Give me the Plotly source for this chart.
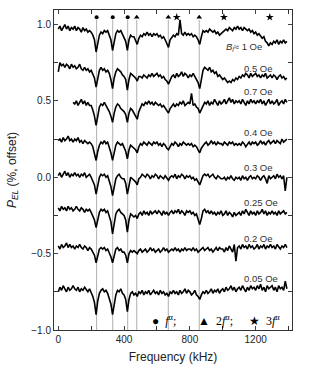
import plotly.graph_objects as go

# frequency grid (kHz)
freq = list(range(0, 1400, 10))

b_1 = [0.97,0.99,0.96,0.98,1.00,0.97,0.99,0.96,0.98,0.97,
       0.99,0.96,0.98,0.97,0.95,0.98,0.96,0.97,0.95,0.96,
       0.95,0.93,0.90,0.82,0.89,0.93,0.95,0.94,0.96,0.95,
       0.96,0.93,0.90,0.83,0.90,0.94,0.96,0.95,0.96,0.94,
       0.92,0.89,0.83,0.90,0.93,0.92,0.92,0.90,0.87,0.91,
       0.93,0.92,0.94,0.93,0.95,0.93,0.94,0.92,0.94,0.93,
       0.94,0.92,0.93,0.91,0.92,0.90,0.88,0.85,0.90,0.92,
       0.93,0.92,0.94,0.93,1.03,0.94,0.93,0.95,0.93,0.94,
       0.93,0.94,0.92,0.93,0.92,0.90,0.87,0.92,0.96,0.95,
       0.96,0.95,0.97,0.96,0.95,0.96,0.94,0.95,0.93,0.94,
       0.95,0.96,0.97,0.96,0.98,0.97,0.96,0.98,0.97,0.99,
       0.97,0.98,0.96,0.98,0.97,0.96,0.97,0.95,0.96,0.94,
       0.95,0.93,0.94,0.92,0.91,0.92,0.89,0.88,0.86,0.88,
       0.87,0.89,0.88,0.90,0.87,0.89,0.88,0.90,0.88,0.89]

b_05 = [0.69,0.75,0.73,0.74,0.72,0.74,0.73,0.71,0.74,0.72,
        0.73,0.71,0.72,0.74,0.71,0.70,0.72,0.70,0.71,0.69,
        0.70,0.68,0.65,0.59,0.66,0.70,0.72,0.70,0.71,0.69,
        0.70,0.68,0.64,0.58,0.65,0.69,0.71,0.70,0.69,0.67,
        0.66,0.64,0.57,0.64,0.68,0.67,0.66,0.65,0.63,0.66,
        0.66,0.65,0.67,0.66,0.65,0.67,0.66,0.68,0.66,0.67,
        0.68,0.66,0.67,0.65,0.66,0.64,0.63,0.61,0.64,0.66,
        0.67,0.65,0.68,0.66,0.67,0.69,0.66,0.68,0.67,0.65,
        0.67,0.66,0.68,0.66,0.64,0.62,0.58,0.64,0.70,0.72,
        0.71,0.70,0.72,0.69,0.70,0.68,0.69,0.66,0.67,0.65,
        0.64,0.65,0.63,0.62,0.63,0.62,0.64,0.63,0.65,0.64,
        0.66,0.65,0.67,0.66,0.68,0.67,0.65,0.68,0.66,0.67,
        0.68,0.66,0.67,0.65,0.67,0.66,0.68,0.65,0.66,0.67,
        0.65,0.67,0.66,0.64,0.66,0.67,0.65,0.66,0.64,0.65]

b_07 = [0.49,
        0.48,0.50,0.47,0.49,0.51,0.48,0.50,0.47,0.49,0.47,
        0.47,0.44,0.40,0.34,0.41,0.46,0.48,0.47,0.49,0.47,
        0.46,0.43,0.40,0.36,0.42,0.46,0.48,0.47,0.45,0.44,
        0.43,0.41,0.36,0.42,0.45,0.44,0.42,0.40,0.38,0.43,
        0.46,0.48,0.47,0.49,0.48,0.50,0.48,0.49,0.47,0.49,
        0.48,0.47,0.48,0.46,0.47,0.45,0.44,0.42,0.45,0.47,
        0.48,0.46,0.48,0.47,0.49,0.48,0.50,0.47,0.48,0.49,
        0.48,0.55,0.47,0.48,0.46,0.45,0.42,0.44,0.47,0.49,
        0.48,0.50,0.47,0.49,0.48,0.51,0.49,0.47,0.50,0.48,
        0.49,0.51,0.48,0.50,0.52,0.49,0.51,0.48,0.50,0.49,
        0.50,0.48,0.51,0.49,0.47,0.50,0.48,0.51,0.49,0.50,
        0.48,0.50,0.49,0.51,0.48,0.50,0.47,0.49,0.51,0.48,
        0.50,0.48,0.49,0.51,0.47,0.49,0.50,0.48,0.51,0.49]

b_04 = [0.24,0.25,0.23,0.26,0.24,0.25,0.27,0.24,0.25,0.23,
        0.25,0.24,0.26,0.23,0.24,0.22,0.24,0.23,0.22,0.23,
        0.22,0.20,0.16,0.11,0.17,0.21,0.23,0.22,0.24,0.22,
        0.23,0.20,0.16,0.11,0.17,0.21,0.23,0.22,0.21,0.22,
        0.20,0.17,0.12,0.18,0.21,0.20,0.19,0.18,0.16,0.20,
        0.22,0.21,0.23,0.22,0.21,0.23,0.22,0.21,0.23,0.22,
        0.23,0.21,0.22,0.20,0.22,0.21,0.19,0.18,0.20,0.22,
        0.21,0.23,0.22,0.20,0.22,0.21,0.23,0.22,0.21,0.22,
        0.21,0.22,0.20,0.21,0.20,0.18,0.16,0.19,0.21,0.22,
        0.23,0.21,0.22,0.24,0.22,0.23,0.21,0.23,0.22,0.22,
        0.21,0.23,0.22,0.21,0.23,0.22,0.23,0.21,0.22,0.21,
        0.22,0.21,0.23,0.22,0.20,0.22,0.23,0.21,0.23,0.22,
        0.23,0.21,0.22,0.24,0.22,0.23,0.21,0.23,0.24,0.22,
        0.23,0.24,0.22,0.24,0.23,0.22,0.25,0.23,0.24,0.25]

b_03 = [0.01,0.03,0.00,0.02,0.04,0.01,0.03,0.00,0.02,0.01,
        0.03,0.01,0.02,0.00,0.02,0.01,0.03,0.00,0.01,0.02,
        0.00,-0.02,-0.05,-0.11,-0.04,0.00,0.02,0.01,0.02,0.00,
        0.01,-0.02,-0.06,-0.12,-0.05,-0.01,0.01,0.02,0.00,-0.01,
        -0.01,-0.04,-0.11,-0.04,0.00,-0.01,-0.02,-0.03,-0.05,-0.01,
        0.00,0.02,0.01,0.00,0.02,0.01,-0.01,0.01,0.00,0.02,
        0.01,-0.01,0.01,0.00,-0.01,0.01,-0.01,-0.02,0.00,0.01,
        0.00,0.02,-0.01,0.01,0.00,0.02,0.01,-0.01,0.01,0.00,
        0.01,-0.01,0.00,-0.02,-0.01,-0.03,-0.05,-0.02,0.01,0.02,
        0.01,0.02,0.00,0.01,0.02,0.00,-0.01,0.01,0.00,-0.01,
        -0.01,0.00,-0.02,0.00,-0.01,0.01,-0.01,-0.02,0.00,-0.01,
        0.00,-0.02,0.01,-0.01,0.00,-0.02,0.00,0.01,-0.01,0.00,
        -0.01,0.01,0.00,-0.02,0.00,0.01,-0.01,-0.04,0.01,-0.01,
        0.00,0.01,-0.01,0.02,0.00,0.01,-0.01,0.01,-0.09,0.00]

b_025 = [-0.20,-0.22,-0.19,-0.21,-0.20,-0.22,-0.19,-0.21,-0.20,-0.22,
         -0.21,-0.19,-0.21,-0.22,-0.20,-0.21,-0.23,-0.21,-0.22,-0.21,
         -0.23,-0.25,-0.28,-0.33,-0.27,-0.23,-0.21,-0.22,-0.21,-0.23,
         -0.22,-0.25,-0.29,-0.37,-0.29,-0.24,-0.22,-0.21,-0.23,-0.24,
         -0.25,-0.28,-0.36,-0.28,-0.24,-0.25,-0.26,-0.25,-0.27,-0.24,
         -0.23,-0.25,-0.22,-0.24,-0.23,-0.25,-0.22,-0.24,-0.23,-0.22,
         -0.24,-0.22,-0.23,-0.25,-0.22,-0.24,-0.23,-0.25,-0.23,-0.22,
         -0.24,-0.22,-0.23,-0.21,-0.24,-0.22,-0.23,-0.25,-0.22,-0.23,
         -0.22,-0.24,-0.23,-0.25,-0.24,-0.27,-0.31,-0.27,-0.22,-0.21,
         -0.23,-0.22,-0.24,-0.22,-0.24,-0.23,-0.25,-0.23,-0.24,-0.22,
         -0.25,-0.24,-0.22,-0.25,-0.23,-0.24,-0.26,-0.23,-0.25,-0.24,
         -0.23,-0.25,-0.22,-0.24,-0.21,-0.23,-0.25,-0.22,-0.24,-0.23,
         -0.25,-0.22,-0.24,-0.23,-0.21,-0.24,-0.22,-0.25,-0.23,-0.24,
         -0.22,-0.24,-0.23,-0.25,-0.22,-0.24,-0.23,-0.22,-0.24,-0.23]

b_02 = [-0.45,-0.47,-0.44,-0.46,-0.45,-0.43,-0.46,-0.44,-0.46,-0.45,
        -0.47,-0.45,-0.46,-0.44,-0.46,-0.47,-0.45,-0.46,-0.48,-0.46,
        -0.47,-0.49,-0.51,-0.56,-0.51,-0.47,-0.46,-0.47,-0.46,-0.48,
        -0.47,-0.49,-0.52,-0.56,-0.51,-0.47,-0.46,-0.48,-0.47,-0.49,
        -0.49,-0.51,-0.56,-0.50,-0.48,-0.49,-0.48,-0.49,-0.50,-0.48,
        -0.47,-0.49,-0.48,-0.47,-0.49,-0.48,-0.46,-0.48,-0.47,-0.49,
        -0.48,-0.47,-0.49,-0.48,-0.46,-0.48,-0.47,-0.49,-0.48,-0.47,
        -0.48,-0.46,-0.48,-0.47,-0.49,-0.47,-0.48,-0.46,-0.48,-0.47,
        -0.47,-0.48,-0.46,-0.48,-0.47,-0.49,-0.48,-0.47,-0.46,-0.48,
        -0.47,-0.46,-0.48,-0.47,-0.49,-0.47,-0.46,-0.48,-0.46,-0.47,
        -0.47,-0.49,-0.46,-0.48,-0.45,-0.47,-0.49,-0.44,-0.55,-0.46,
        -0.45,-0.47,-0.44,-0.46,-0.45,-0.47,-0.44,-0.46,-0.45,-0.47,
        -0.46,-0.44,-0.47,-0.45,-0.46,-0.44,-0.47,-0.45,-0.46,-0.44,
        -0.46,-0.45,-0.47,-0.44,-0.46,-0.47,-0.45,-0.46,-0.44,-0.46]

b_005 = [-0.75,-0.72,-0.74,-0.71,-0.73,-0.75,-0.72,-0.74,-0.73,-0.71,
         -0.73,-0.74,-0.72,-0.75,-0.73,-0.74,-0.72,-0.74,-0.75,-0.73,
         -0.75,-0.78,-0.82,-0.90,-0.81,-0.76,-0.74,-0.73,-0.75,-0.74,
         -0.76,-0.79,-0.83,-0.90,-0.82,-0.77,-0.74,-0.75,-0.73,-0.76,
         -0.77,-0.80,-0.88,-0.80,-0.76,-0.75,-0.77,-0.76,-0.78,-0.75,
         -0.76,-0.74,-0.77,-0.75,-0.76,-0.74,-0.77,-0.75,-0.74,-0.76,
         -0.75,-0.77,-0.74,-0.76,-0.75,-0.77,-0.76,-0.78,-0.75,-0.76,
         -0.74,-0.76,-0.75,-0.77,-0.74,-0.76,-0.75,-0.73,-0.76,-0.74,
         -0.75,-0.77,-0.76,-0.74,-0.77,-0.78,-0.80,-0.77,-0.75,-0.76,
         -0.74,-0.76,-0.75,-0.73,-0.76,-0.74,-0.75,-0.73,-0.76,-0.74,
         -0.73,-0.75,-0.72,-0.74,-0.73,-0.71,-0.74,-0.72,-0.75,-0.73,
         -0.72,-0.74,-0.71,-0.73,-0.75,-0.72,-0.74,-0.71,-0.73,-0.72,
         -0.74,-0.71,-0.73,-0.70,-0.74,-0.72,-0.75,-0.71,-0.73,-0.72,
         -0.71,-0.74,-0.72,-0.75,-0.71,-0.73,-0.72,-0.74,-0.68,-0.73]

series = [
    ("<i>B</i><sub><i>l</i></sub>≈ 1 Oe", freq, b_1, 1010, 0.85),
    ("0.5 Oe", freq, b_05, 1115, 0.71),
    ("0.7 Oe", freq[9:], b_07, 1115, 0.56),
    ("0.4 Oe", freq, b_04, 1115, 0.29),
    ("0.3 Oe", freq, b_03, 1115, 0.065),
    ("0.25 Oe", freq, b_025, 1115, -0.165),
    ("0.2 Oe", freq, b_02, 1115, -0.40),
    ("0.05 Oe", freq, b_005, 1115, -0.665),
]

# resonance frequencies (kHz)
f_alpha = [233, 331, 422]
two_f_alpha = [477, 669, 857]
three_f_alpha = [720, 1007, 1286]
marker_y = 1.048

legend_items = [
    ("●  <i>f</i><sup>α</sup>;", 555),
    ("▲  2<i>f</i><sup>α</sup>;", 835),
    ("★  3<i>f</i><sup>α</sup>", 1150),
]

fig = go.Figure()

for f in f_alpha + two_f_alpha:
    fig.add_shape(type="line", x0=f, x1=f, y0=-1.0, y1=1.03, xref="x", yref="y",
                  line=dict(color="#b0b0b0", width=1), layer="below")

for name, x, y, lx, ly in series:
    fig.add_trace(go.Scatter(x=x, y=y, mode="lines",
                             line=dict(color="black", width=1.6), showlegend=False))
    fig.add_annotation(x=lx, y=ly, text=name, showarrow=False, xanchor="left",
                       yanchor="middle", font=dict(family="Liberation Sans", size=9.5, color="#333"))

fig.add_trace(go.Scatter(x=f_alpha, y=[marker_y]*len(f_alpha), mode="markers",
                         marker=dict(symbol="circle", size=4, color="black"), showlegend=False))
fig.add_trace(go.Scatter(x=two_f_alpha, y=[marker_y]*len(two_f_alpha), mode="markers",
                         marker=dict(symbol="triangle-up", size=5, color="black"), showlegend=False))
fig.add_trace(go.Scatter(x=three_f_alpha, y=[marker_y]*len(three_f_alpha), mode="markers",
                         marker=dict(symbol="star", size=6, color="black"), showlegend=False))

for text, lx in legend_items:
    fig.add_annotation(x=lx, y=-0.94, xanchor="left", yanchor="middle", showarrow=False,
                       text=text, font=dict(family="Liberation Serif", size=12, color="black"))

fig.update_xaxes(range=[-26, 1421], tick0=0, dtick=400,
                 ticks="inside", ticklen=4, mirror="ticks", showline=True, linecolor="#333",
                 linewidth=1, showgrid=False, zeroline=False,
                 minor=dict(ticks="inside", dtick=200, ticklen=4, tickcolor="#333", showgrid=False),
                 title=dict(text="Frequency (kHz)", font=dict(size=12, color="#222"), standoff=8),
                 tickfont=dict(size=10, color="#222"))
fig.update_yaxes(range=[-1.0, 1.095], tick0=0, dtick=0.5, tickformat=".1f",
                 ticks="inside", ticklen=4, mirror="ticks", showline=True, linecolor="#333",
                 linewidth=1, showgrid=False, zeroline=False,
                 minor=dict(ticks="inside", dtick=0.25, ticklen=4, tickcolor="#333", showgrid=False),
                 title=dict(text="<i>P</i><sub><i>EL</i></sub> (%, offset)",
                            font=dict(size=12, color="#222"), standoff=12),
                 tickfont=dict(size=10, color="#222"))

fig.update_layout(width=310, height=382, margin=dict(l=54, r=18, t=10, b=52),
                  paper_bgcolor="white", plot_bgcolor="white",
                  font=dict(family="Liberation Sans", color="#222"))

fig.write_html("out.html", config={"displayModeBar": False},
               post_script="document.body.style.margin='0px';")
